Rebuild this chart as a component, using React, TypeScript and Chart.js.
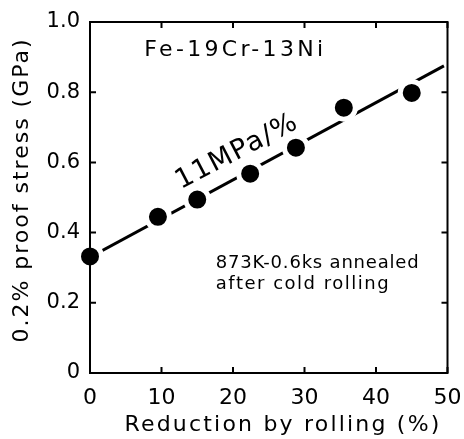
import React, { useEffect, useRef } from "react";
import { Chart, registerables } from "chart.js";

Chart.register(...registerables);

const reductionPct = [0, 9.5, 15, 22.4, 28.8, 35.5, 45];
const proofStressGPa = [0.332, 0.445, 0.494, 0.568, 0.642, 0.756, 0.798];
const fitX = [0, 49.5];
const fitY = [0.33, 0.875];
const xTicks = [0, 10, 20, 30, 40, 50];
const yTicks = [0, 0.2, 0.4, 0.6, 0.8, 1.0];

const FONT = "'DejaVu Sans', sans-serif";

const framePlugin = {
  id: "frame",
  afterDraw(chart: any) {
    const { ctx, chartArea: a, scales } = chart;
    const xs = scales.x;
    const ys = scales.y;
    ctx.save();
    ctx.strokeStyle = "#000";
    ctx.lineWidth = 2;
    ctx.strokeRect(a.left, a.top, a.right - a.left, a.bottom - a.top);
    const tl = 6;
    ctx.beginPath();
    for (const v of xTicks) {
      const px = xs.getPixelForValue(v);
      ctx.moveTo(px, a.bottom);
      ctx.lineTo(px, a.bottom - tl);
      ctx.moveTo(px, a.top);
      ctx.lineTo(px, a.top + tl);
    }
    for (const v of yTicks) {
      const py = ys.getPixelForValue(v);
      ctx.moveTo(a.left, py);
      ctx.lineTo(a.left + tl, py);
      ctx.moveTo(a.right, py);
      ctx.lineTo(a.right - tl, py);
    }
    ctx.stroke();

    ctx.fillStyle = "#000";
    // axis titles
    ctx.save();
    ctx.font = `22px ${FONT}`;
    (ctx as any).letterSpacing = "2.2px";
    ctx.textAlign = "center";
    ctx.textBaseline = "middle";
    ctx.fillText("Reduction by rolling (%)", 283, 425);
    ctx.translate(22, 190);
    ctx.rotate(-Math.PI / 2);
    (ctx as any).letterSpacing = "2px";
    ctx.fillText("0.2% proof stress (GPa)", 0, 0);
    ctx.restore();

    // annotations
    const put = (t: string, x: number, y: number, size: number, align: any, spacing: string, rot = 0) => {
      ctx.save();
      ctx.font = `${size}px ${FONT}`;
      (ctx as any).letterSpacing = spacing;
      ctx.textAlign = align;
      ctx.textBaseline = "middle";
      ctx.translate(xs.getPixelForValue(x), ys.getPixelForValue(y));
      ctx.rotate(rot);
      ctx.fillText(t, 0, 0);
      ctx.restore();
    };
    put("Fe-19Cr-13Ni", 7.6, 0.92, 22, "left", "3.3px");
    put("11MPa/%", 20.6, 0.63, 27, "center", "1.5px", (-27.5 * Math.PI) / 180);
    put("873K-0.6ks annealed", 17.6, 0.313, 18, "left", "0.8px");
    put("after cold rolling", 17.6, 0.253, 18, "left", "1.5px");
    ctx.restore();
  },
};

export default function App() {
  const ref = useRef<HTMLCanvasElement | null>(null);
  useEffect(() => {
    if (!ref.current) return;
    const chart = new Chart(ref.current, {
      type: "scatter",
      data: {
        datasets: [
          {
            label: "data",
            data: reductionPct.map((x, i) => ({ x, y: proofStressGPa[i] })),
            backgroundColor: "#000",
            borderColor: "#fff",
            borderWidth: 5,
            pointRadius: 11.5,
            clip: false as any,
          },
          {
            label: "fit",
            type: "line" as any,
            data: fitX.map((x, i) => ({ x, y: fitY[i] })),
            borderColor: "#000",
            borderWidth: 3,
            pointRadius: 0,
            showLine: true,
            fill: false,
          },
        ],
      },
      plugins: [framePlugin],
      options: {
        responsive: false,
        animation: false,
        layout: { padding: { top: 22, right: 14, left: 0, bottom: 0 } },
        plugins: { legend: { display: false }, tooltip: { enabled: false } },
        scales: {
          x: {
            type: "linear",
            min: 0,
            max: 50,
            grid: { display: false, drawTicks: false },
            border: { display: false },
            afterFit: (s: any) => {
              s.height = 66;
              s.paddingLeft = 0;
              s.paddingRight = 0;
            },
            afterBuildTicks: (s: any) => {
              s.ticks = xTicks.map((v) => ({ value: v }));
            },
            ticks: {
              color: "#000",
              font: { family: FONT, size: 22 },
              padding: 12,
              maxRotation: 0,
              callback: (v: any) => String(v),
            },
          },
          y: {
            type: "linear",
            min: 0,
            max: 1,
            grid: { display: false, drawTicks: false },
            border: { display: false },
            afterFit: (s: any) => {
              s.width = 90;
              s.paddingTop = 0;
              s.paddingBottom = 0;
            },
            afterBuildTicks: (s: any) => {
              s.ticks = yTicks.map((v) => ({ value: v }));
            },
            ticks: {
              color: "#000",
              font: { family: FONT, size: 21 },
              padding: 10,
              callback: (v: any) => (Number(v) === 0 ? "0" : Number(v).toFixed(1)),
            },
          },
        },
      },
    });
    return () => chart.destroy();
  }, []);
  return (
    <div style={{ position: "fixed", left: 0, top: 0, width: 464, height: 439, background: "#fff" }}>
      <canvas ref={ref} width={464} height={439} style={{ width: 464, height: 439 }} />
    </div>
  );
}
